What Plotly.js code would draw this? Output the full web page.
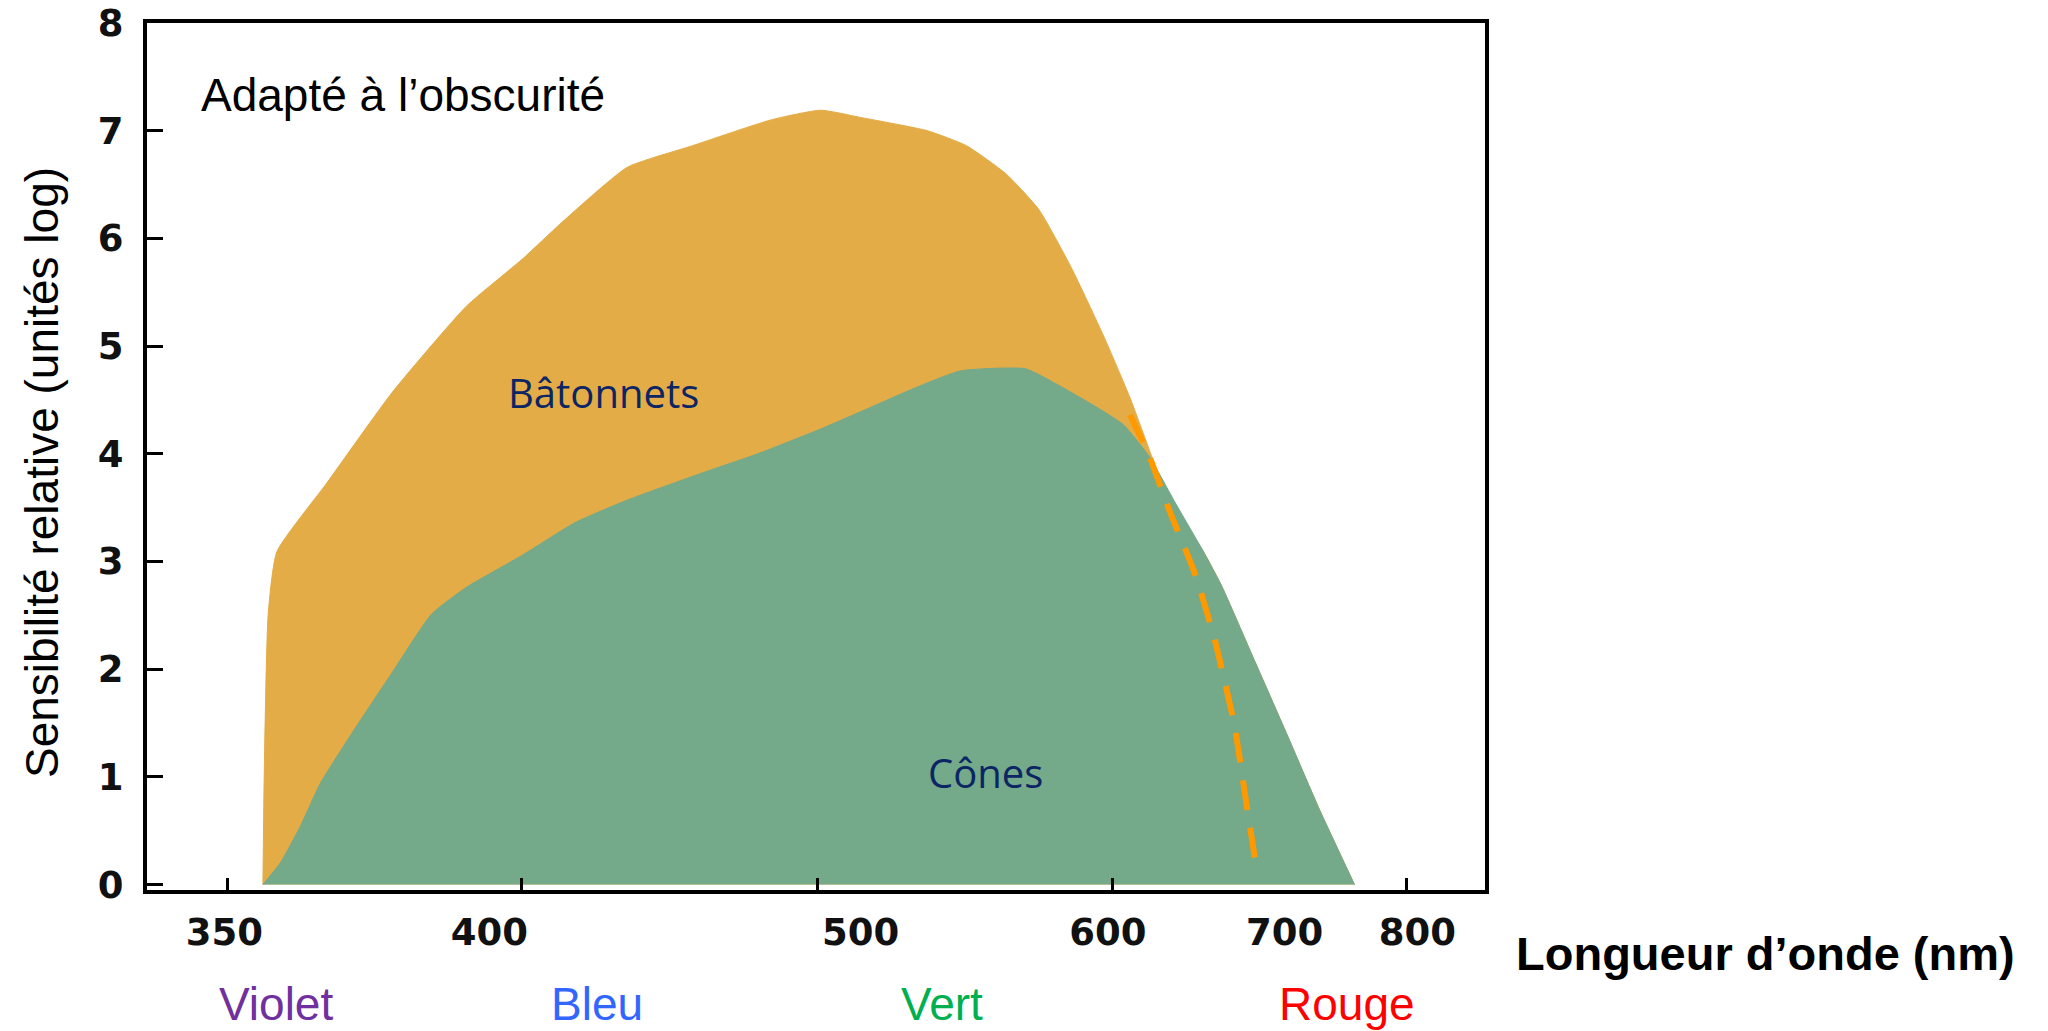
<!DOCTYPE html>
<html>
<head>
<meta charset="utf-8">
<script src="https://cdn.plot.ly/plotly-3.0.1.min.js"></script>
<style>
  html, body { margin: 0; padding: 0; background: #ffffff; }
  #chart { width: 2048px; height: 1031px; }
</style>
</head>
<body>
<div id="chart"></div>
<script>
// ---- Data (wavelength in nm, relative sensitivity in log units) ----
const rodWavelength = [356.5, 356.7, 357.4, 358.9, 367.8, 380.1, 395.1, 407.3, 416.3, 432.1, 449.1, 471.5, 486.9, 500.6, 523.6, 538.5, 554.3, 568.2, 582.7, 598.0, 610.9, 620.9, 631.2, 649.2, 660.5, 680.3, 701.3, 723.6, 749.3];
const rodSensitivity = [0, 0.94, 2.51, 3.09, 3.73, 4.57, 5.37, 5.81, 6.15, 6.66, 6.86, 7.10, 7.19, 7.12, 7.00, 6.86, 6.60, 6.27, 5.73, 5.09, 4.52, 4.03, 3.54, 3.12, 2.78, 2.09, 1.40, 0.70, 0];

const coneWavelength = [356.5, 359.6, 363.1, 366.6, 372.6, 380.1, 387.9, 395.1, 407.3, 419.3, 432.1, 449.1, 467.6, 486.9, 505.0, 518.9, 536.0, 562.5, 576.7, 594.8, 607.6, 620.9, 634.7, 649.2, 660.5, 680.3, 701.3, 723.6, 749.3];
const coneSensitivity = [0, 0.21, 0.55, 0.94, 1.42, 1.97, 2.51, 2.76, 3.06, 3.36, 3.57, 3.79, 4.00, 4.23, 4.45, 4.61, 4.77, 4.79, 4.64, 4.43, 4.27, 3.97, 3.54, 3.12, 2.78, 2.09, 1.40, 0.70, 0];

const dashWavelength = [610.9, 620.9, 631.2, 645.5, 656.7, 668.3, 676.2, 681.9];
const dashSensitivity = [4.36, 3.97, 3.48, 2.88, 2.27, 1.48, 0.69, 0.15];

// ---- Axis labels ----
const tickLabelWavelengths = [350, 400, 500, 600, 700, 800];
const tickMarkWavelengths = [350.5, 407, 486, 602, 791];
const xRangeWavelengths = [337.7, 863.0];
const yTicks = [0, 1, 2, 3, 4, 5, 6, 7, 8];
const colourNames = ['Violet', 'Bleu', 'Vert', 'Rouge'];
const colourNameColours = ['#7030A0', '#3366FF', '#00B050', '#FF0000'];
const colourNamePositions = [0.0961, 0.3363, 0.5941, 0.8969];

// wavenumber scale (µm⁻¹): the original figure's axis is linear in 1/λ
const toWavenumber = arr => arr.map(l => 1000 / l);

const sans = 'Liberation Sans, Arial, Helvetica, sans-serif';
const plotL = 147, plotR = 1485, plotT = 23, plotB = 890;

const traces = [
  {
    x: toWavenumber(rodWavelength), y: rodSensitivity,
    type: 'scatter', mode: 'lines', fill: 'tozeroy',
    fillcolor: '#E3AC47', line: {color: '#E3AC47', width: 1, shape: 'spline', smoothing: 0.5},
    hoverinfo: 'skip', showlegend: false, name: 'Bâtonnets'
  },
  {
    x: toWavenumber(coneWavelength), y: coneSensitivity,
    type: 'scatter', mode: 'lines', fill: 'tozeroy',
    fillcolor: '#74A98A', line: {color: '#74A98A', width: 1, shape: 'spline', smoothing: 0.5},
    hoverinfo: 'skip', showlegend: false, name: 'Cônes'
  },
  {
    x: toWavenumber(dashWavelength), y: dashSensitivity,
    xaxis: 'x2', yaxis: 'y',
    type: 'scatter', mode: 'lines',
    line: {color: '#FF9900', width: 6, dash: '30px,18px', shape: 'spline', smoothing: 0.6},
    hoverinfo: 'skip', showlegend: false
  }
];

const xr = toWavenumber(xRangeWavelengths);

const annotations = [
  {text: 'Sensibilité relative (unités log)', xref: 'paper', yref: 'paper',
   x: (42 - plotL) / (plotR - plotL), y: (plotB - 473) / (plotB - plotT),
   textangle: -90, showarrow: false, xanchor: 'center', yanchor: 'middle',
   font: {family: sans, size: 46, color: '#000000'}},
  {text: 'Adapté à l’obscurité', xref: 'paper', yref: 'paper',
   x: (199 - plotL) / (plotR - plotL), y: (plotB - 95) / (plotB - plotT),
   showarrow: false, xanchor: 'left', yanchor: 'middle',
   font: {family: sans, size: 46, color: '#000000'}},
  {text: 'Bâtonnets', xref: 'paper', yref: 'paper',
   x: (603 - plotL) / (plotR - plotL), y: (plotB - 392) / (plotB - plotT),
   showarrow: false, xanchor: 'center', yanchor: 'middle',
   font: {family: 'Open Sans, Noto Sans, sans-serif', size: 40, color: '#0B2565'}},
  {text: 'Cônes', xref: 'paper', yref: 'paper',
   x: (985 - plotL) / (plotR - plotL), y: (plotB - 772) / (plotB - plotT),
   showarrow: false, xanchor: 'center', yanchor: 'middle',
   font: {family: 'Open Sans, Noto Sans, sans-serif', size: 40, color: '#0B2565'}},
  {text: '<b>Longueur d’onde (nm)</b>', xref: 'paper', yref: 'paper',
   x: (1765 - plotL) / (plotR - plotL), y: (plotB - 953) / (plotB - plotT),
   showarrow: false, xanchor: 'center', yanchor: 'middle',
   font: {family: sans, size: 47, color: '#000000'}}
];
colourNames.forEach((name, i) => {
  annotations.push({
    text: name, xref: 'paper', yref: 'paper',
    x: colourNamePositions[i], y: (plotB - 1004) / (plotB - plotT),
    showarrow: false, xanchor: 'center', yanchor: 'middle',
    font: {family: sans, size: 46, color: colourNameColours[i]}
  });
});

const tickFont = {family: 'DejaVu Sans, sans-serif', size: 37, color: '#111111', weight: 'bold'};

const layout = {
  width: 2048, height: 1031,
  margin: {l: plotL, r: 2048 - plotR, t: plotT, b: 1031 - plotB, pad: 0},
  paper_bgcolor: '#ffffff', plot_bgcolor: '#ffffff',
  showlegend: false,
  xaxis: {
    range: xr, showgrid: false, zeroline: false,
    showline: true, linecolor: '#000000', linewidth: 4, mirror: true,
    tickmode: 'array', tickvals: toWavenumber(tickMarkWavelengths),
    ticks: 'inside', ticklen: 12, tickwidth: 3, tickcolor: '#000000',
    showticklabels: false, fixedrange: true
  },
  xaxis2: {
    range: xr, overlaying: 'x', anchor: 'y', side: 'bottom',
    showgrid: false, zeroline: false, showline: false,
    tickmode: 'array', tickvals: toWavenumber(tickLabelWavelengths),
    ticktext: tickLabelWavelengths.map(String),
    ticks: '', ticklabelstandoff: 17,
    tickfont: tickFont,
    fixedrange: true
  },
  yaxis: {
    range: [-0.05, 8], showgrid: false, zeroline: false,
    showline: true, linecolor: '#000000', linewidth: 4, mirror: true,
    tickmode: 'array', tickvals: yTicks, ticktext: yTicks.map(String),
    ticks: 'inside', ticklen: 16, tickwidth: 3, tickcolor: '#000000',
    ticklabelstandoff: 12,
    tickfont: tickFont,
    fixedrange: true
  },
  annotations: annotations
};

Plotly.newPlot('chart', traces, layout, {staticPlot: true, displayModeBar: false});
</script>
</body>
</html>
